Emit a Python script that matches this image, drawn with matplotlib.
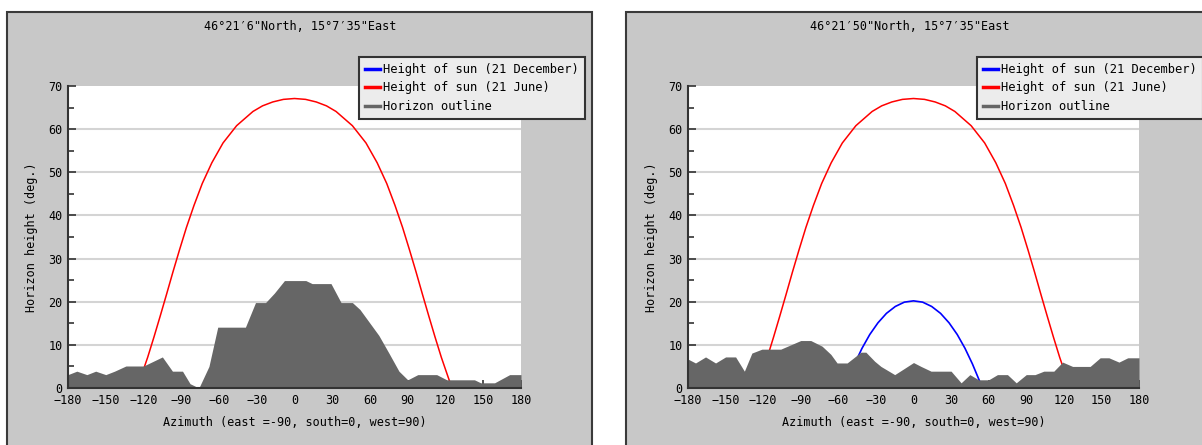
import numpy as np
import matplotlib.pyplot as plt
from matplotlib.patches import Rectangle
from matplotlib.lines import Line2D

# sun paths (azimuth, height)
june_az = [-128, -122, -116.7, -111.7, -106.7, -101.7, -96.6, -91.4, -85.9, -79.9, -73.3, -65.7, -56.8,
           -46.0, -33.0, -25.4, -17.3, -8.8, 0, 8.8, 17.3, 25.4, 33.0, 46.0, 56.8, 65.7, 73.3, 79.9,
           85.9, 91.4, 96.6, 101.7, 106.7, 111.7, 116.7, 122, 128]
june_h = [-2.4, 2.6, 7.1, 11.8, 16.7, 21.7, 26.9, 32.0, 37.2, 42.3, 47.4, 52.2, 56.8,
          60.8, 64.1, 65.4, 66.3, 66.9, 67.1, 66.9, 66.3, 65.4, 64.1, 60.8, 56.8, 52.2, 47.4, 42.3,
          37.2, 32.0, 26.9, 21.7, 16.7, 11.8, 7.1, 2.6, -2.4]
dec_az = [-58, -52.6, -47.0, -41.1, -34.9, -28.4, -21.6, -14.5, -7.3, 0, 7.3, 14.5, 21.6, 28.4,
          34.9, 41.1, 47.0, 52.6, 58]
dec_h = [-2.6, 1.7, 5.6, 9.2, 12.4, 15.1, 17.3, 18.9, 19.9, 20.2, 19.9, 18.9, 17.3, 15.1,
         12.4, 9.2, 5.6, 1.7, -2.6]

# horizon outline, left site
hor1_az = [-180, -173, -165, -158, -150, -143, -134, -120, -105, -97, -89, -83, -76, -68, -61, -39, -31, -23,
           -16, -8, 9, 14, 29, 37, 46, 52, 60, 67, 75, 83, 90, 98, 113, 121, 143, 148, 159, 171, 180]
hor1_h = [3.1, 3.9, 3.1, 3.9, 3.1, 3.9, 5.1, 5.1, 7.2, 3.9, 3.9, 1, 0, 5, 14.1, 14.1, 19.8, 19.8,
          22, 24.9, 24.9, 24.2, 24.2, 19.8, 19.8, 18.2, 15, 12.2, 8.1, 3.9, 1.9, 3.1, 3.1, 1.9, 1.9, 1.2, 1.2, 3.1, 3.1]

# horizon outline, right site
hor2_az = [-180, -174, -166, -158, -150, -142, -135, -129, -121, -106, -98, -90, -82, -73, -66, -61, -53, -42,
           -38, -31, -26, -15, -8, 0, 6, 14, 30, 38, 45, 52, 60, 67, 75, 82, 90, 97, 104, 112, 119, 127,
           141, 149, 156, 164, 171, 180]
hor2_h = [6.7, 5.8, 7.2, 5.8, 7.2, 7.2, 3.9, 8.1, 9, 9, 10, 11, 11, 9.7, 7.8, 5.8, 5.8, 8.3,
          8.3, 6.2, 5, 3.1, 4.4, 5.9, 5, 3.9, 3.9, 1.2, 3.1, 1.9, 1.9, 3.1, 3.1, 1.2, 3.1, 3.1, 3.9, 3.9, 6, 5,
          5, 7, 7, 6, 7, 7]

titles = ['46°21′6"North, 15°7′35"East', '46°21′50"North, 15°7′35"East']
horizons = [(hor1_az, hor1_h), (hor2_az, hor2_h)]
legend_labels = ['Height of sun (21 December)', 'Height of sun (21 June)', 'Horizon outline']
colors = ['#0000ff', '#ff0000', '#666666']

W, H = 1202, 445
plt.rcParams['font.family'] = ['DejaVu Sans Mono']
fig = plt.figure(figsize=(W / 100, H / 100), dpi=100)

panel_x = [(7, 592), (626, 1215)]
axes_x = [(68, 521), (688, 1139)]
title_x = [300, 910]
legend_x = [359, 977]
y_top, y_bot = 86, 388

for i in range(2):
    px0, px1 = panel_x[i]
    fig.patches.append(Rectangle((px0 / W, -0.1), (px1 - px0) / W, 1.1 - 12 / H,
                                 transform=fig.transFigure, facecolor='#c8c8c8',
                                 edgecolor='#3a3a3a', lw=1.5, zorder=-5))
    ax0, ax1 = axes_x[i]
    ax = fig.add_axes([ax0 / W, 1 - y_bot / H, (ax1 - ax0) / W, (y_bot - y_top) / H])
    ax.set_facecolor('white')

    ax.plot(dec_az, dec_h, color=colors[0], lw=1.2, zorder=2)
    ax.plot(june_az, june_h, color=colors[1], lw=1.1, zorder=2)
    ha, hh = horizons[i]
    ax.fill_between(ha, 0, hh, color=colors[2], lw=0, zorder=3)

    ax.set_xlim(-180, 180)
    ax.set_ylim(0, 70)
    ax.set_xticks(np.arange(-180, 181, 30))
    ax.set_yticks(np.arange(0, 71, 10))
    ax.set_yticks(np.arange(5, 70, 10), minor=True)
    ax.set_xticklabels([str(v).replace('-', '\u2212') for v in range(-180, 181, 30)])
    ax.tick_params(direction='in', length=6, width=1.2, labelsize=8.5, color='#333333', pad=4)
    ax.tick_params(axis='y', which='minor', direction='in', length=4, width=1.2, color='#333333')
    for y in range(10, 70, 10):
        ax.axhline(y, color='#d4d4d4', lw=1.5, zorder=1)
    for s in ['top', 'right']:
        ax.spines[s].set_visible(False)
    for s in ['left', 'bottom']:
        ax.spines[s].set_color('#333333')
        ax.spines[s].set_linewidth(1.5)
        ax.spines[s].set_zorder(5)

    fig.text(title_x[i] / W, 1 - 27 / H, titles[i], ha='center', va='center', fontsize=8.5)
    fig.text((ax0 + ax1) / 2 / W, 1 - 422 / H, 'Azimuth (east =-90, south=0, west=90)',
             ha='center', va='center', fontsize=8.5)
    fig.text((ax0 - 36) / W, 1 - 237 / H, 'Horizon height (deg.)', rotation=90,
             ha='center', va='center', fontsize=8.5)

    handles = [Line2D([], [], color=c, lw=2.5) for c in colors]
    leg = fig.legend(handles, legend_labels,
                     loc='upper left', bbox_to_anchor=(legend_x[i] / W, 1 - 57 / H),
                     fontsize=8.7, frameon=True, fancybox=False, shadow=False,
                     handlelength=1.2, handletextpad=0.3, labelspacing=0.45,
                     borderpad=0.5, borderaxespad=0)
    fr = leg.get_frame()
    fr.set_facecolor('#ececec')
    fr.set_edgecolor('#333333')
    fr.set_linewidth(1.5)
    fr.set_alpha(1)

fig.savefig('out.png', dpi=100, facecolor='white')
